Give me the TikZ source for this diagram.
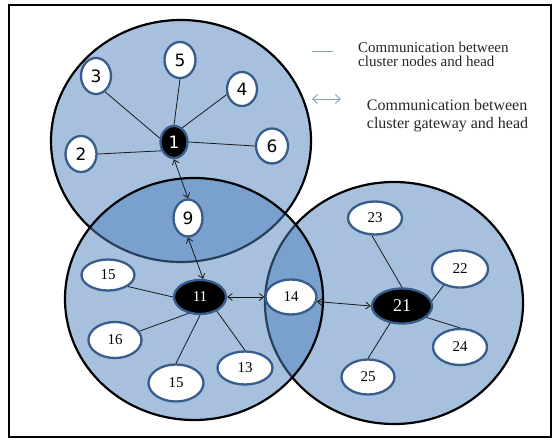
\documentclass[tikz,border=0pt]{standalone}
\usepackage{fontspec}
\setmainfont{Liberation Serif}
\newfontfamily\numfont{DejaVu Sans}
\usetikzlibrary{shapes.geometric, arrows.meta}
\definecolor{accent}{HTML}{4F81BD}
\definecolor{nodeborder}{HTML}{385D8A}
\definecolor{legendblue}{HTML}{7F9FC8}
\begin{document}
\begin{tikzpicture}[x=1pt, y=-1pt,
  zone/.style={draw=black, line width=2.2pt, fill=accent, fill opacity=0.5},
  small/.style={ellipse, draw=nodeborder, line width=2.3pt, fill=white, inner sep=0pt, font=\numfont\fontsize{17}{17}\selectfont},
  big/.style={ellipse, draw=nodeborder, line width=2.3pt, fill=white, inner sep=0pt, font=\fontsize{15}{15}\selectfont},
  head/.style={fill=black, text=white},
  link/.style={draw=black!90, line width=0.8pt},
  barb/.tip={Straight Barb[length=4.5pt,width=7pt]},
  gate/.style={link, barb-barb},
  legendtext/.style={anchor=base west, inner sep=0pt, text=black!85},
]
\useasboundingbox (0,0) rectangle (556,439);
\draw[line width=1.6pt] (9,5) rectangle (551,437);

% clusters (order gives the overlaps)
\draw[zone] (181,141) ellipse [x radius=130pt, y radius=121pt];
\draw[zone] (394,303) ellipse [x radius=129pt, y radius=121pt];
\draw[zone] (194,299) ellipse [x radius=129pt, y radius=121pt];

% upper cluster
\node[small, minimum width=30pt, minimum height=36pt] (n3) at (96,76) {3};
\node[small, minimum width=31pt, minimum height=36pt] (n5) at (180,60) {5};
\node[small, minimum width=30pt, minimum height=34pt] (n4) at (242,89) {4};
\node[small, minimum width=31pt, minimum height=36pt] (n2) at (81,154) {2};
\node[small, minimum width=32pt, minimum height=35pt] (n6) at (272,146) {6};
\node[small, head, minimum width=27pt, minimum height=32pt] (n1) at (174,142) {1};
\node[small, minimum width=29pt, minimum height=37pt] (n9) at (188,218) {9};

% lower left cluster
\node[big, minimum width=53pt, minimum height=31pt] (n15a) at (108,275) {15};
\node[big, head, minimum width=52pt, minimum height=34pt] (n11) at (200,297) {11};
\node[big, minimum width=51pt, minimum height=35pt] (n14) at (291,297) {14};
\node[big, minimum width=53pt, minimum height=36pt] (n16) at (115,340) {16};
\node[big, minimum width=55pt, minimum height=37pt] (n15b) at (176,383) {15};
\node[big, minimum width=55pt, minimum height=33pt] (n13) at (245,368) {13};

% right cluster
\node[big, head, minimum width=60pt, minimum height=35pt, font=\fontsize{18}{18}\selectfont] (n21) at (402,306) {21};
\node[big, minimum width=54pt, minimum height=33pt] (n23) at (375,218) {23};
\node[big, minimum width=56pt, minimum height=37pt] (n22) at (460,269) {22};
\node[big, minimum width=54pt, minimum height=36pt] (n24) at (460,347) {24};
\node[big, minimum width=53pt, minimum height=35pt] (n25) at (368,377) {25};

% connectors
\draw[link] (n3.-60) -- (n1.165);
\draw[link] (n5.south) -- (n1.north);
\draw[link] (n4.200) -- (n1.60);
\draw[link] (n2.east) -- (n1.215);
\draw[link] (n6.west) -- (n1.east);
\draw[gate] (n1.south) -- (n9.north);
\draw[gate] (n9.south) -- (n11.80);
\draw[gate] (n11.east) -- (n14.west);
\draw[gate] (n14.-10) -- (n21.west);
\draw[link] (n15a.-30) -- (n11.west);
\draw[link] (n16.20) -- (n11.-125);
\draw[link] (n15b.north) -- (n11.south);
\draw[link] (n13.north) -- (n11.-40);
\draw[link] (n23.-100) -- (n21.north);
\draw[link] (n22.225) -- (n21.10);
\draw[link] (n21.-25) -- (n24.north);
\draw[link] (n21.-125) -- (n25.north);

% legend
\coordinate (l1a) at (312,51);
\coordinate (l1b) at (333,51);
\coordinate (l2a) at (312,99);
\coordinate (l2b) at (341,99);
\draw[legendblue, line width=1pt] (l1a) -- (l1b);
\draw[legendblue, line width=0.9pt, {Straight Barb[length=5pt,width=9pt]}-{Straight Barb[length=5pt,width=9pt]}] (l2a) -- (l2b);
\node[legendtext, font=\fontsize{15}{15}\selectfont] (t1) at (358,52) {Communication between};
\node[legendtext, font=\fontsize{15}{15}\selectfont] (t2) at (358,66.5) {cluster nodes and head};
\node[legendtext, font=\fontsize{16}{16}\selectfont] (t3) at (366.7,110.7) {Communication between};
\node[legendtext, font=\fontsize{16}{16}\selectfont] (t4) at (366.7,128.7) {cluster gateway and head};
\end{tikzpicture}
\end{document}
